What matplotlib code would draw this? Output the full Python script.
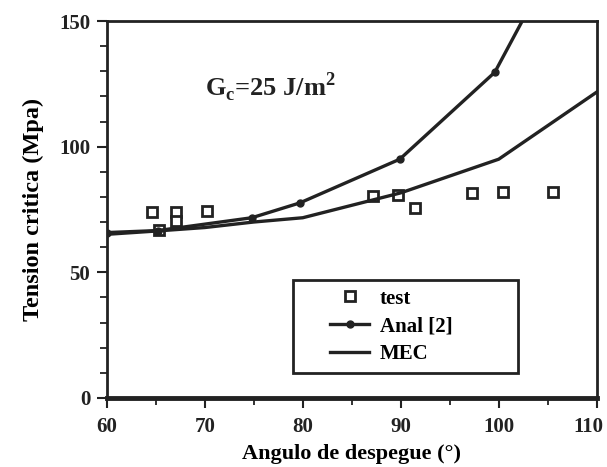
import matplotlib
matplotlib.use("Agg")
import matplotlib.pyplot as plt
from matplotlib.ticker import MultipleLocator
from matplotlib.patches import Rectangle
from matplotlib.transforms import ScaledTranslation

plt.rcParams["font.family"] = ["Liberation Serif", "DejaVu Serif"]
plt.rcParams["font.weight"] = "bold"
plt.rcParams["mathtext.fontset"] = "custom"
plt.rcParams["mathtext.rm"] = "Liberation Serif:bold"

# datos
test_x = [64.6, 65.3, 67.1, 67.1, 70.2, 87.2, 89.7, 91.5, 97.3, 100.4, 105.5]
test_y = [74.0, 67.0, 74.0, 70.6, 74.3, 80.5, 80.9, 75.7, 81.6, 81.8, 81.8]

anal_x = [60, 65.2, 74.8, 79.7, 89.9, 99.6, 103.5]
anal_y = [65.8, 66.6, 71.7, 77.6, 95.0, 129.6, 158.0]
anal_pts = 6  # el ultimo punto solo sirve para salir por arriba

mec_x = [60, 65, 70, 75, 80, 90, 100, 110]
mec_y = [65.1, 66.4, 67.8, 70.0, 71.7, 81.6, 95.0, 121.7]

xticks = [60, 70, 80, 90, 100, 110]
yticks = [0, 50, 100, 150]

ink = "#222222"

fig = plt.figure(figsize=(6.07, 4.67), dpi=100)
ax = fig.add_axes([0.176, 0.148, 0.807, 0.807])

ax.plot(test_x, test_y, ls="none", marker="s", ms=7, mfc="white", mec=ink,
        mew=2, label="test")
ax.plot(anal_x, anal_y, color=ink, lw=2.4, marker="o", ms=5,
        markevery=list(range(anal_pts)), label="Anal [2]")
ax.plot(mec_x, mec_y, color=ink, lw=2.4, label="MEC")

ax.set_xlim(60, 110)
ax.set_ylim(0, 150)
ax.set_xticks(xticks)
ax.set_yticks(yticks)
ax.xaxis.set_minor_locator(MultipleLocator(5))
ax.yaxis.set_minor_locator(MultipleLocator(10))
ax.tick_params(axis="both", which="major", length=7, width=1.5, labelsize=15,
               colors=ink)
ax.tick_params(axis="x", which="major", pad=7)
ax.tick_params(axis="y", which="major", pad=5)
ax.tick_params(axis="both", which="minor", length=5, width=1.3, colors=ink)

# la etiqueta 110 va un poco a la izquierda, como en el original
lab = ax.xaxis.get_major_ticks()[-1].label1
lab.set_transform(lab.get_transform() + ScaledTranslation(-0.08, 0, fig.dpi_scale_trans))

for s in ax.spines.values():
    s.set_linewidth(2)
    s.set_color(ink)
ax.spines["bottom"].set_linewidth(3.5)

ax.set_xlabel("Angulo de despegue (°)", fontsize=16, fontweight="bold", labelpad=5)
ax.set_ylabel("Tension critica (Mpa)", fontsize=17.5, fontweight="bold", labelpad=11)

ax.text(70, 119.8, r"G$_\mathregular{c}$=25 J/m$^\mathregular{2}$", fontsize=19,
        fontweight="bold", color=ink)

# marco de la leyenda
ax.add_patch(Rectangle((0.380, 0.066), 0.459, 0.247, transform=ax.transAxes,
                       fill=True, facecolor="white", edgecolor=ink, lw=2, zorder=4))
leg = ax.legend(loc="upper left", bbox_to_anchor=(0.455, 0.29), fontsize=15,
                frameon=False, handlelength=1.9, borderpad=0, labelspacing=0.38,
                handletextpad=0.5, borderaxespad=0)
leg.set_zorder(5)

fig.savefig("out.png", dpi=100)
